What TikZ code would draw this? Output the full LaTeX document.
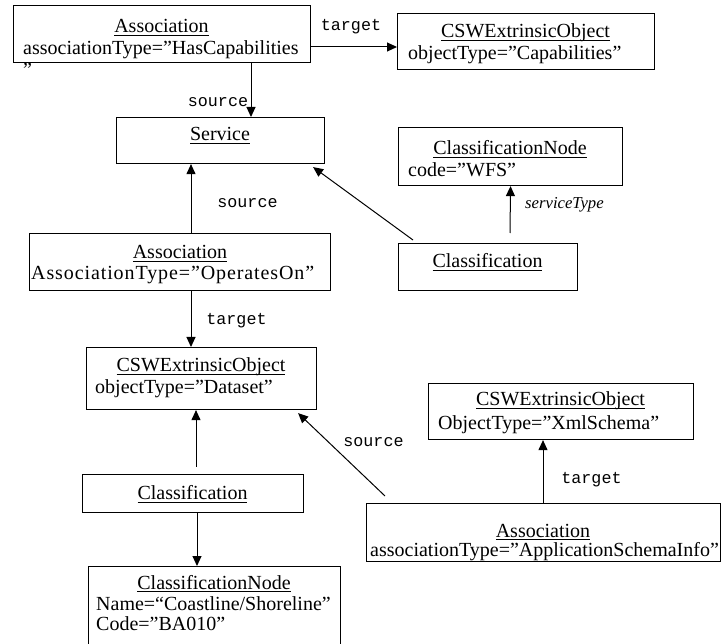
\documentclass[tikz,border=0pt]{standalone}
\usepackage{fontspec}
\setmainfont{Liberation Serif}
\newfontfamily\labelmono{Liberation Mono}
\usetikzlibrary{arrows.meta}
% underline at a fixed distance below the baseline
\newlength\ulwd
\newcommand\ulx[1]{\settowidth\ulwd{#1}\rlap{\rule[-2.6pt]{\ulwd}{0.9pt}}#1}
\tikzset{
  box/.style={draw, line width=1.1pt, inner sep=0pt, anchor=north west},
  txt/.style={inner sep=0pt, font=\fontsize{20}{22}\selectfont},
  lab/.style={inner sep=0pt, anchor=base, font=\labelmono\fontsize{16.7}{18}\selectfont},
  rolelab/.style={inner sep=0pt, anchor=base west, font=\itshape\fontsize{16.7}{18}\selectfont},
  arr/.style={line width=1pt, -{Triangle[length=10pt,width=9pt]}},
}
\begin{document}
\begin{tikzpicture}[x=1pt,y=-1pt]
\useasboundingbox (0,0) rectangle (721,644);

% Association (HasCapabilities)
\node[box, minimum width=297pt, minimum height=57pt] (a1) at (13,5) {};
\node[txt, anchor=base] (a1n) at (161.5,33) {\ulx{Association}};
\node[txt, anchor=base west] (a1t) at (23,54.5) {associationType=”HasCapabilities};
\node[txt, anchor=base west] (a1q) at (23,77) {”};

% CSWExtrinsicObject (Capabilities)
\node[box, minimum width=257pt, minimum height=56pt] (csw1) at (397,13) {};
\node[txt, anchor=base] (csw1n) at (525.5,38) {\ulx{CSWExtrinsicObject}};
\node[txt, anchor=base west] (csw1t) at (408,60) {objectType=”Capabilities”};

% Service
\node[box, minimum width=208pt, minimum height=46pt] (svc) at (116,117) {};
\node[txt, anchor=base] (svcn) at (220,141) {\ulx{Service}};

% ClassificationNode (WFS)
\node[box, minimum width=224pt, minimum height=58pt] (cn1) at (398,127) {};
\node[txt, anchor=base] (cn1n) at (510,155) {\ulx{ClassificationNode}};
\node[txt, anchor=base west] (cn1t) at (408,177) {code=”WFS”};

% Classification (service)
\node[box, minimum width=179pt, minimum height=47pt] (cl1) at (398,243) {};
\node[txt, anchor=base] (cl1n) at (487.5,268) {\ulx{Classification}};

% Association (OperatesOn)
\node[box, minimum width=301pt, minimum height=57pt] (a2) at (29,233) {};
\node[txt, anchor=base] (a2n) at (180,259) {\ulx{Association}};
\node[txt, anchor=base west] (a2t) at (31,280)
  {\addfontfeature{LetterSpace=4.5}AssociationType=”OperatesOn”};

% CSWExtrinsicObject (Dataset)
\node[box, minimum width=230pt, minimum height=62pt] (csw2) at (86,347) {};
\node[txt, anchor=base] (csw2n) at (201,372) {\ulx{CSWExtrinsicObject}};
\node[txt, anchor=base west] (csw2t) at (95,394) {objectType=”Dataset”};

% CSWExtrinsicObject (XmlSchema)
\node[box, minimum width=265pt, minimum height=56pt] (csw3) at (428,383) {};
\node[txt, anchor=base] (csw3n) at (560.5,406) {\ulx{CSWExtrinsicObject}};
\node[txt, anchor=base west] (csw3t) at (438,430) {ObjectType=”XmlSchema”};

% Association (ApplicationSchemaInfo)
\node[box, minimum width=353.5pt, minimum height=58pt] (a3) at (366,503) {};
\node[txt, anchor=base] (a3n) at (543,537) {\ulx{Association}};
\node[txt, anchor=base west] (a3t) at (370,556) {associationType=”ApplicationSchemaInfo”};

% Classification (dataset)
\node[box, minimum width=221pt, minimum height=38pt] (cl2) at (82,474) {};
\node[txt, anchor=base] (cl2n) at (192.5,500) {\ulx{Classification}};

% ClassificationNode (Coastline)
\node[box, minimum width=252pt, minimum height=90pt] (cn2) at (88,566) {};
\node[txt, anchor=base] (cn2n) at (214,589) {\ulx{ClassificationNode}};
\node[txt, anchor=base west] (cn2t) at (96,610) {Name=“Coastline/Shoreline”};
\node[txt, anchor=base west] (cn2c) at (96,630) {Code=”BA010”};

% connectors
\draw[arr] (a1.east |- 0,47) -- (csw1.west |- 0,47);
\node[lab] (l1) at (351,31) {target};

\draw[arr] (a1.south -| 251,0) -- (svc.north -| 251,0);
\node[lab] (l2) at (218,107) {source};

\draw[arr] (a2.north -| 191,0) -- (svc.south -| 191,0);
\node[lab] (l3) at (247.5,208) {source};

\draw[arr] ([shift={(15,-3)}]cl1.north west) -- ([shift={(-12,3)}]svc.south east);

\path (cl1.north -| 510,0) ++(0,-10) coordinate (g1);
\draw[arr] (g1) -- (cn1.south);
\node[rolelab] (l4) at (525,209) {serviceType};

\draw[arr] (a2.south -| 191,0) -- (csw2.north -| 191,0);
\node[lab] (l5) at (236.5,325) {target};

\path (cl2.north -| 196,0) ++(0,-7) coordinate (g2);
\draw[arr] (g2) -- (csw2.south -| 196,0);
\draw[arr] (cl2.south -| 197,0) -- (cn2.north -| 197,0);

\draw[arr] ([shift={(19,-7)}]a3.north west) -- ([shift={(-19,3)}]csw2.south east);
\node[lab] (l6) at (373.5,447) {source};

\draw[arr] (a3.north -| 543,0) -- (csw3.south -| 543,0);
\node[lab] (l7) at (591.5,483) {target};
\end{tikzpicture}
\end{document}
